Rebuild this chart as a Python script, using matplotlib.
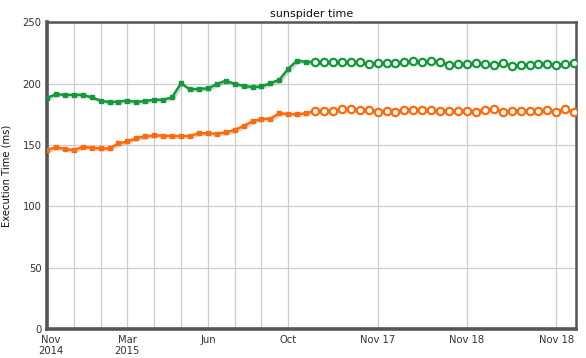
import matplotlib
matplotlib.use("Agg")
import matplotlib.pyplot as plt
import matplotlib.patheffects as pe
import numpy as np

green = [188.5, 191.5, 191, 191, 191, 189, 186.3, 185, 185.5, 186.3,
         185.2, 186, 187, 187, 189, 200.5, 195.4, 196, 196.2, 199.7,
         202.5, 200, 198.4, 197.3, 197.8, 200.5, 203.3, 212.3, 219, 217.8,
         217.8, 217.8, 217.5, 217.8, 217.5, 217.5, 215.8, 217.2, 217.2, 217.2,
         217.5, 218.3, 217.8, 218.3, 217.8, 215.3, 216.1, 215.8, 216.9, 215.8,
         215.6, 216.7, 214.8, 215.3, 215.6, 216.4, 215.8, 215.3, 216.1, 216.7]
orange = [146.2, 148.1, 147, 145.9, 148.6, 147.8, 147.3, 147.3, 151.4, 153,
          155.7, 157.1, 157.9, 157.7, 157.4, 157.4, 157.4, 159.8, 159.6, 159.3,
          160.4, 162.3, 165.6, 169.4, 171.3, 171.6, 176, 175.4, 175.1, 176,
          178.1, 178.1, 178.1, 179.2, 179.2, 179, 179, 177.3, 178.1, 177.3,
          179, 178.7, 178.7, 178.4, 178.1, 178.1, 178.1, 178.1, 177.3, 178.7,
          179.8, 177.3, 178.1, 178.1, 178.1, 178.1, 178.7, 177.3, 179.5, 176.7]
n_filled = 30  # first points drawn with filled squares, rest open circles

tick_pos = [0.4, 9, 18, 27, 37, 47, 57]
tick_labels = ["Nov\n2014", "Mar\n2015", "Jun", "Oct", "Nov 17", "Nov 18", "Nov 18"]
grid_pos = [0, 3, 6, 9, 12, 15, 18, 21, 24, 27, 37, 47, 57]
y_ticks = [0, 50, 100, 150, 200, 250]

fig = plt.figure(figsize=(5.86, 3.58), dpi=100)
ax = fig.add_axes([47/586, 29/358, 529/586, 306.5/358])

x = np.arange(len(green))
shadow = [pe.SimpleLineShadow(offset=(1.2, -1.2), shadow_color="#888888", alpha=0.35), pe.Normal()]

for vals, col in [(green, "#11993a"), (orange, "#ff6a0d")]:
    vals = np.array(vals)
    ax.plot(x, vals, color=col, lw=1.8, zorder=3, path_effects=shadow)
    ax.plot(x[:n_filled], vals[:n_filled], ls="none", marker="s", ms=3.2,
            color=col, zorder=4)
    ax.plot(x[n_filled:], vals[n_filled:], ls="none", marker="o", ms=5.3,
            mfc="white", mec=col, mew=1.6, zorder=4)

ax.set_xlim(0, 59.2)
ax.set_ylim(0, 250)
ax.set_yticks(y_ticks)
ax.set_xticks(tick_pos)
ax.set_xticklabels(tick_labels, linespacing=1.05)
ax.grid(False)
for gx in grid_pos:
    ax.axvline(gx, color="#cccccc", lw=0.9, zorder=0)
ax.grid(True, which="major", axis="y", color="#cccccc", lw=0.9)
ax.set_axisbelow(True)
ax.tick_params(which="both", length=0)
ax.tick_params(axis="both", labelsize=7.2, colors="#333333", pad=4)
ax.tick_params(axis="x", pad=4.5)

for side in ["left", "bottom"]:
    ax.spines[side].set_linewidth(2.6)
    ax.spines[side].set_color("#555555")
for side in ["top", "right"]:
    ax.spines[side].set_linewidth(1.8)
    ax.spines[side].set_color("#555555")

ax.set_title("sunspider time", fontsize=8, color="#111111", pad=4)
ax.set_ylabel("Execution Time (ms)", fontsize=7.2, color="#111111", labelpad=8)

fig.savefig("out.png", dpi=100)
